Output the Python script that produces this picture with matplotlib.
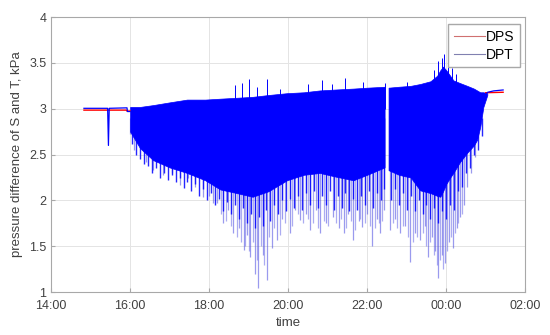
import numpy as np
import matplotlib.pyplot as plt

# hours after 14:00
tick_pos = [0, 2, 4, 6, 8, 10, 12]
tick_labels = ["14:00", "16:00", "18:00", "20:00", "22:00", "00:00", "02:00"]

# DPT before the pump run and after it (flat parts)
dpt_pre_t = [0.83, 1.43, 1.45, 1.47, 1.92, 1.93, 2.0]
dpt_pre_v = [3.005, 3.005, 2.60, 3.005, 3.01, 2.97, 2.97]
dpt_post_t = [11.0, 11.05, 11.2, 11.44]
dpt_post_v = [3.16, 3.18, 3.195, 3.205]

# DPS (red)
dps_pre_t = [0.83, 1.90, 1.92, 2.0]
dps_pre_v = [2.985, 2.985, 2.975, 2.975]
dps_post_t = [11.0, 11.44]
dps_post_v = [3.175, 3.18]

# envelope of the dense DPT band (gap near 22:28)
band_t = [2.0, 2.25, 2.58, 3.0, 3.44, 3.9, 4.28, 4.7, 5.1, 5.5, 5.97, 6.4,
          6.8, 7.2, 7.65, 8.0, 8.44]
band_top = [3.02, 3.02, 3.04, 3.07, 3.10, 3.10, 3.11, 3.12, 3.13, 3.15, 3.17,
            3.18, 3.20, 3.21, 3.22, 3.23, 3.24]
band_bot = [2.75, 2.57, 2.44, 2.36, 2.30, 2.22, 2.12, 2.08, 2.04, 2.10, 2.22,
            2.28, 2.30, 2.26, 2.22, 2.28, 2.36]

band2_t = [8.54, 8.8, 9.1, 9.34, 9.6, 9.77, 9.85, 9.92, 10.0, 10.1, 10.18,
           10.35, 10.53, 10.7, 10.78, 10.86, 10.94, 11.04]
band2_top = [3.23, 3.24, 3.25, 3.27, 3.30, 3.36, 3.42, 3.46, 3.42, 3.36, 3.31,
             3.28, 3.25, 3.22, 3.20, 3.18, 3.18, 3.17]
band2_bot = [2.33, 2.28, 2.25, 2.11, 2.08, 2.05, 2.04, 2.10, 2.18, 2.25, 2.30,
             2.42, 2.52, 2.60, 2.66, 2.80, 3.02, 3.15]

# short dark spikes making the ragged lower edge of the band
fringe_t = [2.05, 2.15, 2.25, 2.35, 2.45, 2.55, 2.65, 2.75, 2.85, 2.95, 3.05,
            3.15, 3.25, 3.35, 3.45, 3.55, 3.65, 3.75, 3.85, 3.95, 4.05, 4.15,
            4.25, 4.35, 4.45, 4.55, 4.65, 4.75, 4.85, 4.95, 5.05, 5.15, 5.25,
            5.35, 5.45, 5.55, 5.65, 5.75, 5.85, 5.95, 6.05, 6.15, 6.25, 6.35,
            6.45, 6.55, 6.65, 6.75, 6.85, 6.95, 7.05, 7.15, 7.25, 7.35, 7.45,
            7.55, 7.65, 7.75, 7.85, 7.95, 8.05, 8.15, 8.25, 8.35, 8.42, 8.6,
            8.7, 8.8, 8.9, 9.0, 9.1, 9.2, 9.3, 9.4, 9.5, 9.6, 9.7, 9.8, 9.9,
            10.0, 10.1, 10.2, 10.3, 10.4, 10.5, 10.6, 10.7, 10.8, 10.9]
fringe_v = [2.62, 2.50, 2.45, 2.40, 2.38, 2.30, 2.35, 2.25, 2.30, 2.22, 2.28,
            2.20, 2.25, 2.14, 2.20, 2.10, 2.18, 2.05, 2.12, 2.00, 2.08, 1.95,
            2.02, 1.88, 1.98, 1.85, 1.95, 1.80, 1.92, 1.75, 1.85, 1.70, 1.82,
            1.72, 1.90, 1.78, 1.95, 1.85, 2.00, 1.88, 2.02, 1.92, 2.05, 1.90,
            2.08, 1.95, 2.10, 1.92, 2.05, 1.95, 2.10, 1.90, 2.05, 1.92, 2.08,
            1.88, 2.02, 1.90, 2.05, 1.95, 2.10, 1.92, 2.08, 2.00, 2.12, 2.00,
            2.12, 1.95, 2.08, 1.90, 2.05, 1.88, 2.00, 1.85, 1.95, 1.80, 1.92,
            1.75, 1.88, 1.80, 1.95, 1.90, 2.10, 2.15, 2.30, 2.35, 2.50, 2.55,
            2.70]

# long pale spikes below the band (time, minimum value)
spike_t = [1.99, 2.1, 2.4, 2.58, 2.84, 3.05, 3.27, 3.47, 3.65, 3.85, 4.0, 4.1,
           4.2, 4.35, 4.48, 4.6, 4.75, 4.87, 4.95, 5.04, 5.16, 5.24, 5.35,
           5.46, 5.6, 5.72, 5.85, 6.05, 6.18, 6.3, 6.45, 6.56, 6.7, 6.81,
           6.95, 7.14, 7.28, 7.4, 7.52, 7.65, 7.78, 7.87, 8.0, 8.13, 8.25,
           8.33, 8.42, 8.58, 8.7, 8.84, 8.95, 9.09, 9.2, 9.34, 9.45, 9.54,
           9.65, 9.72, 9.8, 9.9, 9.97, 10.08, 10.18, 10.27, 10.35, 10.45,
           10.53, 10.63, 10.73]
spike_v = [2.72, 2.55, 2.42, 2.33, 2.28, 2.30, 2.17, 2.25, 2.15, 2.04, 2.05,
           1.97, 1.97, 1.75, 1.90, 1.64, 1.70, 1.46, 1.62, 1.38, 1.20, 1.05,
           1.40, 1.13, 1.48, 1.57, 1.80, 1.64, 1.90, 1.79, 1.85, 1.68, 1.90,
           1.64, 1.75, 1.82, 1.70, 1.64, 1.85, 1.57, 1.78, 1.71, 1.85, 1.50,
           1.80, 1.64, 1.90, 1.68, 1.80, 1.64, 1.72, 1.33, 1.65, 1.57, 1.72,
           1.38, 1.60, 1.45, 1.15, 1.40, 1.32, 1.55, 1.48, 1.70, 1.82, 1.95,
           2.15, 2.30, 2.47]

# more pale spikes in between
pale_t = [4.3, 4.42, 4.55, 4.7, 4.8, 4.9, 5.0, 5.1, 5.2, 5.3, 5.4, 5.52,
          5.65, 5.78, 5.92, 6.1, 6.24, 6.38, 6.5, 6.62, 6.75, 6.9, 7.02, 7.2,
          7.34, 7.46, 7.58, 7.7, 7.82, 7.94, 8.07, 8.2, 8.3, 8.38, 8.65, 8.76,
          8.9, 9.03, 9.15, 9.26, 9.4, 9.5, 9.6, 9.68, 9.76, 9.85, 9.93, 10.02,
          10.12, 10.22, 10.31, 10.4]
pale_v = [1.85, 1.78, 1.72, 1.60, 1.55, 1.50, 1.45, 1.55, 1.35, 1.50, 1.30,
          1.60, 1.70, 1.62, 1.75, 1.72, 1.85, 1.75, 1.80, 1.75, 1.70, 1.78,
          1.72, 1.75, 1.80, 1.70, 1.78, 1.68, 1.80, 1.75, 1.72, 1.70, 1.75,
          1.78, 1.75, 1.70, 1.72, 1.60, 1.55, 1.60, 1.65, 1.50, 1.55, 1.40,
          1.30, 1.35, 1.25, 1.45, 1.60, 1.65, 1.75, 1.85]

# upward spikes above the band
upspike_t = [4.65, 4.83, 5.0, 5.2, 5.46, 5.8, 6.5, 6.86, 7.1, 7.44, 7.9,
             8.44, 9.0, 9.7, 9.8, 9.9, 9.95, 10.05, 10.15, 10.25]
upspike_v = [3.26, 3.28, 3.32, 3.24, 3.32, 3.22, 3.27, 3.31, 3.27, 3.34,
             3.29, 3.28, 3.29, 3.42, 3.52, 3.55, 3.60, 3.55, 3.45, 3.38]

blue = "#0000ff"
plt.rcParams["font.family"] = ["Liberation Sans", "DejaVu Sans"]
fig = plt.figure(figsize=(5.5, 3.35), dpi=100)
ax = fig.add_axes([0.093, 0.128, 0.862, 0.821])

ax.vlines(spike_t, spike_v, 2.9, color="#4848e0", lw=0.9, alpha=0.55, zorder=2)
ax.vlines(pale_t, pale_v, 2.9, color="#4848e0", lw=0.9, alpha=0.45, zorder=2)
ax.vlines(fringe_t, fringe_v, 2.9, color=blue, lw=1.0, alpha=0.85, zorder=2)
ax.vlines(upspike_t, 3.0, upspike_v, color=blue, lw=0.7, zorder=2)
ax.fill_between(band_t, band_bot, band_top, color=blue, lw=0.5, zorder=3)
ax.fill_between(band2_t, band2_bot, band2_top, color=blue, lw=0.5, zorder=3)

ax.plot(dps_pre_t, dps_pre_v, color="red", lw=1.0, label="DPS", zorder=4)
ax.plot(dps_post_t, dps_post_v, color="red", lw=1.0, zorder=4)
ax.plot(dpt_pre_t, dpt_pre_v, color=blue, lw=0.9, label="DPT", zorder=5)
ax.plot(dpt_post_t, dpt_post_v, color=blue, lw=0.9, zorder=5)

ax.set_xlim(0, 12)
ax.set_ylim(1, 4)
ax.set_xticks(tick_pos)
ax.set_xticklabels(tick_labels)
ax.set_yticks([1, 1.5, 2, 2.5, 3, 3.5, 4])
ax.set_yticklabels(["1", "1.5", "2", "2.5", "3", "3.5", "4"])
ax.grid(True, color="#e4e4e4", lw=0.7)
ax.set_axisbelow(True)
for s in ax.spines.values():
    s.set_color("#a8a8a8")
    s.set_linewidth(0.8)
ax.tick_params(direction="in", length=3, color="#a8a8a8", labelsize=9,
               labelcolor="#404040")
ax.tick_params(axis="x", pad=6)
ax.set_xlabel("time", fontsize=9.5, color="#404040", labelpad=3)
ax.set_ylabel("pressure difference of S and T, kPa", fontsize=9.5,
              color="#404040", labelpad=4)

leg = ax.legend(loc="upper right", bbox_to_anchor=(0.989, 0.975),
                borderaxespad=0, fontsize=10, handlelength=2.2,
                fancybox=False, framealpha=1, edgecolor="#a8a8a8",
                borderpad=0.4, labelspacing=0.3, handletextpad=0.1)
leg.get_lines()[0].set_color("#d07070")
leg.get_lines()[1].set_color("#8080b0")
leg.get_lines()[0].set_linewidth(0.8)
leg.get_lines()[1].set_linewidth(0.8)

fig.savefig("out.png", dpi=100)
